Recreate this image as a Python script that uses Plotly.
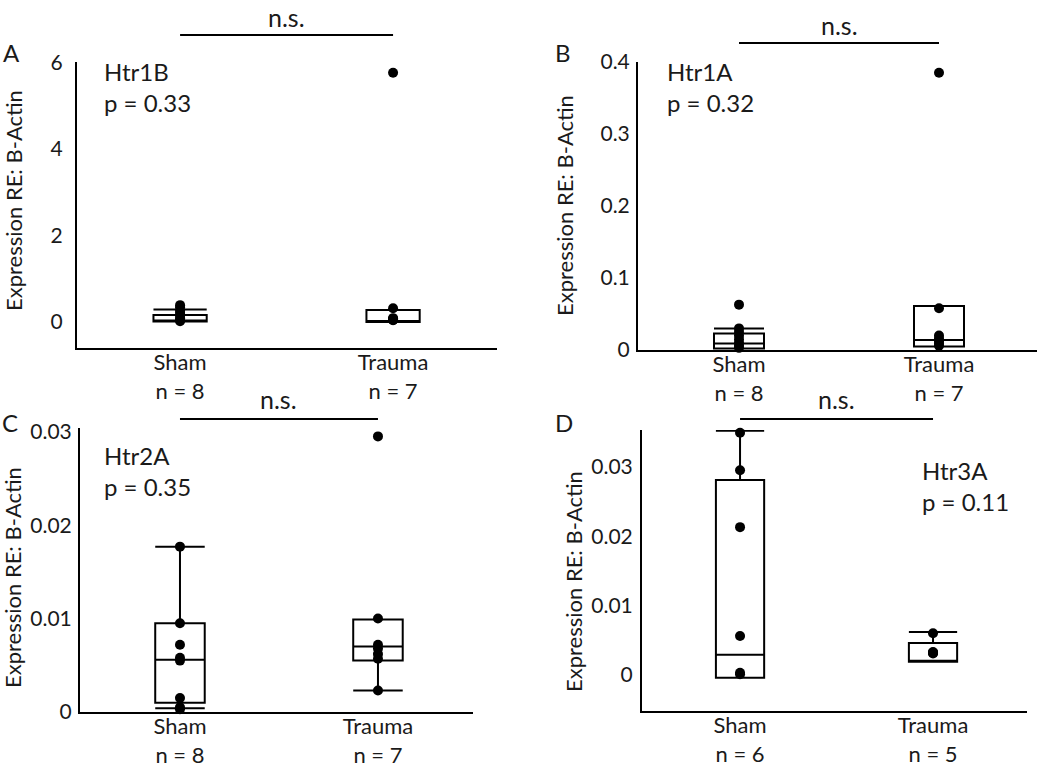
import plotly.graph_objects as go

W, H = 1050, 773
FONT = "Lato"

groups = ["Sham", "Trauma"]
group_pos = [0, 1]

# Panel A: Htr1B
a_n = [8, 7]
a_sham = [0.39, 0.34, 0.26, 0.21, 0.15, 0.09, 0.05, 0.02]
a_trauma = [5.76, 0.32, 0.09, 0.07, 0.06, 0.05, 0.04]
a_q1 = [0.01, 0.0]
a_med = [0.02, 0.01]
a_q3 = [0.16, 0.28]
a_lo = [0.01, 0.0]
a_hi = [0.29, 0.28]

# Panel B: Htr1A
b_n = [8, 7]
b_sham = [0.063, 0.030, 0.025, 0.020, 0.015, 0.010, 0.006, 0.003]
b_trauma = [0.385, 0.058, 0.020, 0.016, 0.012, 0.009, 0.006]
b_q1 = [0.002, 0.005]
b_med = [0.009, 0.014]
b_q3 = [0.023, 0.061]
b_lo = [0.002, 0.005]
b_hi = [0.030, 0.061]

# Panel C: Htr2A
c_n = [8, 7]
c_sham = [0.0177, 0.0095, 0.0072, 0.0058, 0.0055, 0.0015, 0.0005, 0.0003]
c_trauma = [0.0295, 0.0100, 0.0072, 0.0068, 0.0062, 0.0057, 0.0023]
c_q1 = [0.0010, 0.0055]
c_med = [0.0056, 0.0070]
c_q3 = [0.0095, 0.0099]
c_lo = [0.0004, 0.0023]
c_hi = [0.0177, 0.0099]

# Panel D: Htr3A
d_n = [6, 5]
d_sham = [0.0349, 0.0295, 0.0213, 0.0056, 0.0003, 0.0001]
d_trauma = [0.0060, 0.0033, 0.0032, 0.0032, 0.0031]
d_q1 = [-0.0004, 0.0019]
d_med = [0.0029, 0.0019]
d_q3 = [0.0281, 0.0046]
d_lo = [-0.0004, 0.0019]
d_hi = [0.0352, 0.0062]

panels = [
    dict(letter="A", gene="Htr1B", p="p = 0.33", n=a_n, sham=a_sham, trauma=a_trauma,
         q1=a_q1, med=a_med, q3=a_q3, lo=a_lo, hi=a_hi,
         yticks=[0, 2, 4, 6], yticktext=["0", "2", "4", "6"], yrange=[-0.6, 6.01],
         xrange=[-0.484, 1.488], px=(77, 497), py=(62, 348), ystand=8,
         letter_xy=(11, 52), gene_xy=(102, 86.5), ytitle_xy=(13, 201),
         sig_y=35, ns_y=17),
    dict(letter="B", gene="Htr1A", p="p = 0.32", n=b_n, sham=b_sham, trauma=b_trauma,
         q1=b_q1, med=b_med, q3=b_q3, lo=b_lo, hi=b_hi,
         yticks=[0, 0.1, 0.2, 0.3, 0.4], yticktext=["0", "0.1", "0.2", "0.3", "0.4"],
         yrange=[0, 0.4], xrange=[-0.505, 1.49], px=(638, 1037), py=(62, 350), ystand=2,
         letter_xy=(563, 52), gene_xy=(665, 87.5), ytitle_xy=(564, 206),
         sig_y=43, ns_y=25),
    dict(letter="C", gene="Htr2A", p="p = 0.35", n=c_n, sham=c_sham, trauma=c_trauma,
         q1=c_q1, med=c_med, q3=c_q3, lo=c_lo, hi=c_hi,
         yticks=[0, 0.01, 0.02, 0.03], yticktext=["0", "0.01", "0.02", "0.03"],
         yrange=[0, 0.0304], xrange=[-0.505, 1.48], px=(80, 473), py=(428, 712), ystand=2,
         letter_xy=(10, 423), gene_xy=(102, 471), ytitle_xy=(12, 578),
         sig_y=419, ns_y=399),
    dict(letter="D", gene="Htr3A", p="p = 0.11", n=d_n, sham=d_sham, trauma=d_trauma,
         q1=d_q1, med=d_med, q3=d_q3, lo=d_lo, hi=d_hi,
         yticks=[0, 0.01, 0.02, 0.03], yticktext=["0", "0.01", "0.02", "0.03"],
         yrange=[-0.0052, 0.0353], xrange=[-0.508, 1.487], px=(642, 1027), py=(430, 711), ystand=3,
         letter_xy=(564, 423), gene_xy=(920, 486.5), ytitle_xy=(573, 582),
         sig_y=419, ns_y=399),
]


def fx(px):
    return px / W


def fy(py):
    return 1 - py / H


fig = go.Figure()
annotations = []
shapes = []
layout = {}

for i, P in enumerate(panels):
    k = "" if i == 0 else str(i + 1)
    xa, ya = "x" + k, "y" + k
    fig.add_trace(go.Box(
        x=group_pos, q1=P["q1"], median=P["med"], q3=P["q3"],
        lowerfence=P["lo"], upperfence=P["hi"],
        width=0.25, whiskerwidth=1, boxpoints=False,
        line=dict(color="black", width=2), fillcolor="rgba(0,0,0,0)",
        xaxis=xa, yaxis=ya, showlegend=False, hoverinfo="skip",
    ))
    for gp, vals in zip(group_pos, [P["sham"], P["trauma"]]):
        fig.add_trace(go.Scatter(
            x=[gp] * len(vals), y=vals, mode="markers", cliponaxis=False,
            marker=dict(color="black", size=10),
            xaxis=xa, yaxis=ya, showlegend=False,
        ))
    ticktext = [f"{g}<br>n = {n}" for g, n in zip(groups, P["n"])]
    layout["xaxis" + k] = dict(
        domain=[fx(P["px"][0]), fx(P["px"][1])], anchor=ya,
        range=P["xrange"], tickvals=group_pos, ticktext=ticktext,
        showline=True, linecolor="black", linewidth=2, ticks="",
        showgrid=False, zeroline=False, automargin=False, ticklabelstandoff=-6,
        tickfont=dict(family=FONT, size=22, color="#1a1a1a"),
    )
    layout["yaxis" + k] = dict(
        domain=[fy(P["py"][1]), fy(P["py"][0])], anchor=xa,
        range=P["yrange"], tickvals=P["yticks"], ticktext=P["yticktext"],
        showline=True, linecolor="black", linewidth=2, ticks="",
        showgrid=False, zeroline=False, ticklabelstandoff=P["ystand"], automargin=False,
        tickfont=dict(family=FONT, size=21, color="#1a1a1a"),
    )
    xref = xa
    # significance bar
    shapes.append(dict(type="line", xref=xref, yref="paper",
                       x0=group_pos[0], x1=group_pos[1],
                       y0=fy(P["sig_y"]), y1=fy(P["sig_y"]),
                       line=dict(color="black", width=2)))
    annotations.append(dict(text="n.s.", xref=xref, yref="paper",
                            x=0.5, y=fy(P["ns_y"]), showarrow=False,
                            xanchor="center", yanchor="middle",
                            font=dict(family=FONT, size=25, color="#1a1a1a")))
    annotations.append(dict(text=P["letter"], xref="paper", yref="paper",
                            x=fx(P["letter_xy"][0]), y=fy(P["letter_xy"][1]),
                            showarrow=False, xanchor="center", yanchor="middle",
                            font=dict(family=FONT, size=24, color="#1a1a1a")))
    annotations.append(dict(text=P["gene"] + "<br>" + P["p"], xref="paper", yref="paper",
                            x=fx(P["gene_xy"][0]), y=fy(P["gene_xy"][1]),
                            showarrow=False, xanchor="left", yanchor="middle",
                            align="left",
                            font=dict(family=FONT, size=24, color="#1a1a1a")))
    annotations.append(dict(text="Expression RE: B-Actin", xref="paper", yref="paper",
                            x=fx(P["ytitle_xy"][0]), y=fy(P["ytitle_xy"][1]),
                            showarrow=False, xanchor="center", yanchor="middle",
                            textangle=-90,
                            font=dict(family=FONT, size=22, color="#1a1a1a")))

fig.update_layout(
    template="none",
    width=W, height=H, margin=dict(l=0, r=0, t=0, b=0, pad=0, autoexpand=False),
    paper_bgcolor="white", plot_bgcolor="white",
    annotations=annotations, shapes=shapes, boxmode="overlay",
    **layout,
)

# remove the browser's default page margin so the figure fills the window
fig.write_html("out.html", config={"displayModeBar": False},
               post_script="document.body.style.margin='0';")
